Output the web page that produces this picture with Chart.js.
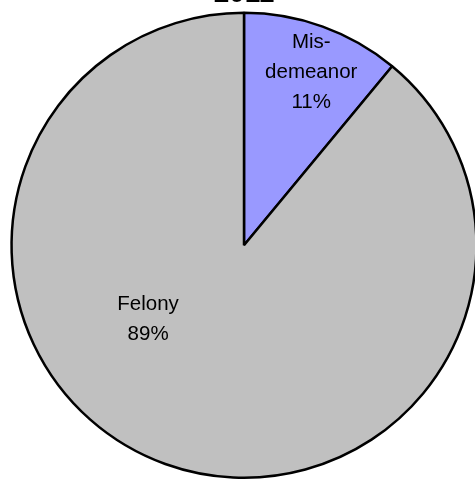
<!DOCTYPE html>
<html>
<head>
<meta charset="utf-8">
<script src="https://cdn.jsdelivr.net/npm/chart.js@4"></script>
<style>
  html, body { margin: 0; padding: 0; background: #fff; overflow: hidden; }
  #wrap { position: absolute; left: 0; top: -27px; width: 488px; height: 508px; }
</style>
</head>
<body>
<div id="wrap"><canvas id="pieChart"></canvas></div>
<script>
const title = "2011";
const categories = ["Mis-\ndemeanor", "Felony"];
const shares = [11, 89];
const sliceColors = ["#9999FF", "#C0C0C0"];

// label placement: angle from 12 o'clock (deg, clockwise) and fraction of radius
const labelSpots = [[21.2, 0.80], [232.5, 0.52]];

const sliceLabels = {
  id: "sliceLabels",
  afterDatasetsDraw(chart) {
    const ctx = chart.ctx;
    const meta = chart.getDatasetMeta(0);
    ctx.save();
    ctx.fillStyle = "#000";
    ctx.font = "20.5px 'Liberation Sans', Arial, sans-serif";
    ctx.textAlign = "center";
    ctx.textBaseline = "middle";
    meta.data.forEach(function (arc, i) {
      const p = arc.getProps(["x", "y", "outerRadius"], true);
      const a = labelSpots[i][0] * Math.PI / 180;
      const r = p.outerRadius * labelSpots[i][1];
      const cx = p.x + r * Math.sin(a);
      const cy = p.y - r * Math.cos(a);
      const lines = categories[i].split("\n").concat([shares[i] + "%"]);
      const lh = 30;
      lines.forEach(function (t, k) {
        ctx.fillText(t, cx, cy + (k - (lines.length - 1) / 2) * lh);
      });
    });
    ctx.restore();
  }
};

document.addEventListener("DOMContentLoaded", function () {
  const ctx = document.getElementById("pieChart").getContext("2d");
  new Chart(ctx, {
    type: "pie",
    data: {
      labels: categories,
      datasets: [{
        data: shares,
        backgroundColor: sliceColors,
        borderColor: "#000",
        borderWidth: 2.5
      }]
    },
    options: {
      responsive: true,
      maintainAspectRatio: false,
      animation: false,
      layout: { padding: { top: 0, bottom: 2, left: 0, right: 0 } },
      plugins: {
        legend: { display: false },
        tooltip: { enabled: false },
        title: {
          display: true,
          text: title,
          color: "#000",
          font: { family: "'Liberation Sans', Arial, sans-serif", size: 28, weight: "bold" },
          padding: { top: 4, bottom: 1 }
        }
      }
    },
    plugins: [sliceLabels]
  });
});
</script>
</body>
</html>
